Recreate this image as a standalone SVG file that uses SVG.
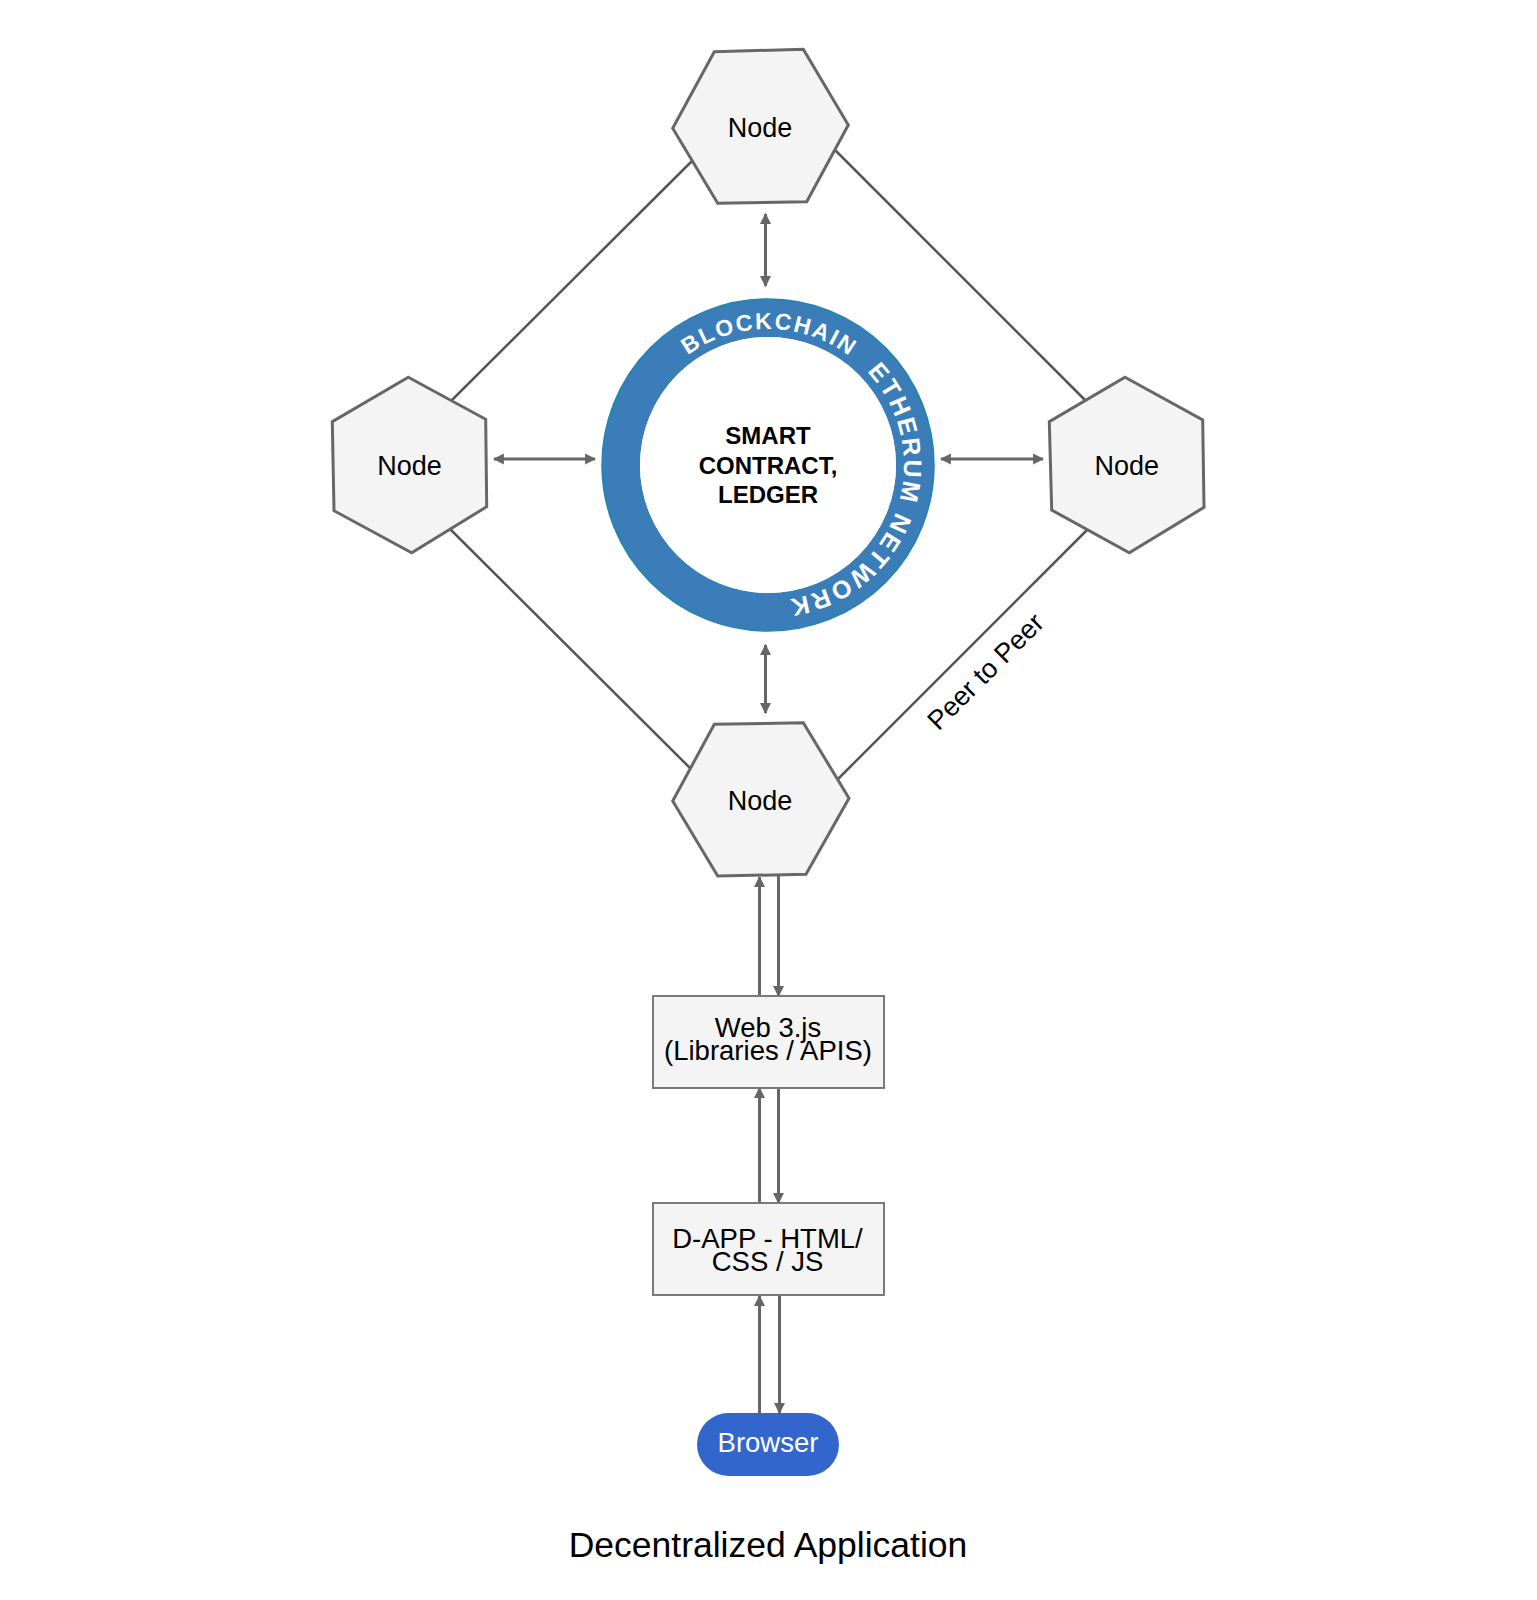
<svg xmlns="http://www.w3.org/2000/svg" width="1537" height="1600" viewBox="0 0 1537 1600">
<style>
.hex{fill:#f4f4f4;stroke:#676767;stroke-width:3;stroke-linejoin:miter}
.box{fill:#f4f4f4;stroke:#7a7a7a;stroke-width:2}
.lbl{font-family:"Liberation Sans",Arial,sans-serif;fill:#000;text-anchor:middle}
.edge{stroke:#555;stroke-width:2.5;fill:none}
.arr{stroke:#666;stroke-width:3;fill:none;marker-end:url(#ah);marker-start:url(#ah)}
.arr1{stroke:#666;stroke-width:3;fill:none;marker-end:url(#ah)}
.ring{font-family:"Liberation Sans",Arial,sans-serif;font-weight:bold;fill:#fff}
</style>
<defs>
<marker id="ah" viewBox="0 0 10 10" refX="9" refY="5" markerWidth="11" markerHeight="12" markerUnits="userSpaceOnUse" orient="auto-start-reverse">
<path d="M0,0 L10,5 L0,10 z" fill="#666"/>
</marker>
<path id="circ" d="M632,465 A136,136 0 1,1 904,465 A136,136 0 1,1 632,465"/>
</defs>
<rect width="1537" height="1600" fill="#fff"/>
<g id="connectors">
<line class="edge" x1="448" y1="404" x2="696" y2="157"/>
<line class="edge" x1="831" y1="146" x2="1090" y2="405"/>
<line class="edge" x1="447" y1="526" x2="694" y2="772"/>
<line class="edge" x1="1090" y1="527" x2="834" y2="783"/>
<line class="arr" x1="765.5" y1="214" x2="765.5" y2="286"/>
<line class="arr" x1="765.5" y1="645" x2="765.5" y2="713"/>
<line class="arr" x1="494" y1="459" x2="595" y2="459"/>
<line class="arr" x1="941" y1="459" x2="1043" y2="459"/>
<line class="arr1" x1="759.5" y1="996" x2="759.5" y2="877"/>
<line class="arr1" x1="778.5" y1="875" x2="778.5" y2="996"/>
<line class="arr1" x1="759.5" y1="1203" x2="759.5" y2="1088"/>
<line class="arr1" x1="778.5" y1="1088" x2="778.5" y2="1203"/>
<line class="arr1" x1="759.5" y1="1413" x2="759.5" y2="1296"/>
<line class="arr1" x1="779.5" y1="1296" x2="779.5" y2="1413"/>
</g>
<g id="peer-label">
<text class="lbl" font-size="27" transform="translate(992,678) rotate(-45)">Peer to Peer</text>
</g>
<g id="node-top">
<polygon class="hex" points="714.3,51.7 803.3,49.3 848.3,125 806.7,201.7 717.7,203.3 672.7,128.3"/>
<text class="lbl" x="760" y="137" font-size="27">Node</text>
</g>
<g id="node-left">
<polygon class="hex" points="408.3,377.3 485.7,419.3 486.7,506.7 411.7,552.7 334,510.7 332.3,421.7"/>
<text class="lbl" x="409.5" y="475" font-size="27">Node</text>
</g>
<g id="node-right">
<polygon class="hex" points="1125,377.3 1202.7,420 1204,507.3 1129.3,552.7 1051.7,510 1049.3,421.7"/>
<text class="lbl" x="1126.7" y="475" font-size="27">Node</text>
</g>
<g id="node-bottom">
<polygon class="hex" points="714.3,724.3 803.3,722.7 849,798.3 806,874.3 717.7,876 672.7,801"/>
<text class="lbl" x="760" y="810" font-size="27">Node</text>
</g>
<g id="blockchain">
<circle cx="768" cy="465" r="147" fill="none" stroke="#3a7db8" stroke-width="38"/>
<circle cx="768" cy="465" r="166" fill="none" stroke="#1f86ad" stroke-width="1.5"/>
<circle cx="768" cy="465" r="128" fill="#fff"/>
<text class="ring" font-size="23" letter-spacing="2"><textPath href="#circ" startOffset="215" text-anchor="middle">BLOCKCHAIN</textPath></text>
<text class="ring" font-size="25" letter-spacing="2.5"><textPath href="#circ" startOffset="324">ETHERUM NETWORK</textPath></text>
<text class="lbl" x="768" y="444" font-size="24" font-weight="bold">SMART</text>
<text class="lbl" x="768" y="474" font-size="24" font-weight="bold">CONTRACT,</text>
<text class="lbl" x="768" y="503" font-size="24" font-weight="bold">LEDGER</text>
</g>
<g id="web3">
<rect class="box" x="653" y="996" width="231" height="92"/>
<text class="lbl" x="768" y="1037" font-size="27.5">Web 3.js</text>
<text class="lbl" x="768" y="1060" font-size="27.5">(Libraries / APIS)</text>
</g>
<g id="dapp">
<rect class="box" x="653" y="1203" width="231" height="92"/>
<text class="lbl" x="767.5" y="1248" font-size="27.5">D-APP - HTML/</text>
<text class="lbl" x="767.5" y="1271" font-size="27.5">CSS / JS</text>
</g>
<g id="browser">
<rect x="697" y="1413" width="142" height="63" rx="31.5" fill="#3366cc"/>
<text class="lbl" x="768" y="1452" font-size="27.5" style="fill:#fff">Browser</text>
</g>
<g id="title">
<text class="lbl" x="768" y="1557" font-size="35.5">Decentralized Application</text>
</g>
</svg>
